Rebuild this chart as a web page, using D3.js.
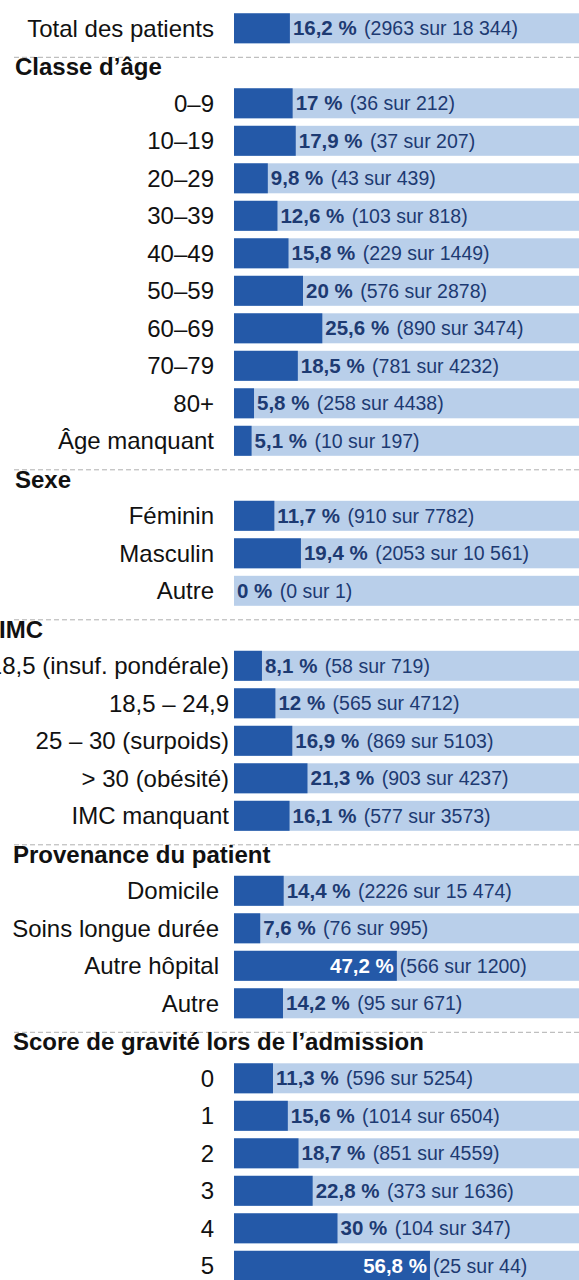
<!DOCTYPE html>
<html>
<head>
<meta charset="utf-8">
<script src="https://cdn.jsdelivr.net/npm/d3@7"></script>
<style>
  html, body { margin: 0; padding: 0; background: #fff; }
  svg { display: block; font-family: 'Liberation Sans', Arial, sans-serif; }
</style>
</head>
<body>
<svg id="chart"></svg>
<script>
// sections (the first one, "Total", has no header)
const sectionTitles = ['', 'Classe d’âge', 'Sexe', 'IMC', 'Provenance du patient', 'Score de gravité lors de l’admission'];
const sectionSizes = [1, 10, 3, 5, 4, 6];

const rowLabels = [
  'Total des patients',
  '0–9', '10–19', '20–29', '30–39', '40–49', '50–59', '60–69', '70–79', '80+', 'Âge manquant',
  'Féminin', 'Masculin', 'Autre',
  '< 18,5 (insuf. pondérale)', '18,5 – 24,9', '25 – 30 (surpoids)', '> 30 (obésité)', 'IMC manquant',
  'Domicile', 'Soins longue durée', 'Autre hôpital', 'Autre',
  '0', '1', '2', '3', '4', '5',
];
const rowPct = [
  16.2,
  17, 17.9, 9.8, 12.6, 15.8, 20, 25.6, 18.5, 5.8, 5.1,
  11.7, 19.4, 0,
  8.1, 12, 16.9, 21.3, 16.1,
  14.4, 7.6, 47.2, 14.2,
  11.3, 15.6, 18.7, 22.8, 30, 56.8,
];
const rowCases = [
  2963,
  36, 37, 43, 103, 229, 576, 890, 781, 258, 10,
  910, 2053, 0,
  58, 565, 869, 903, 577,
  2226, 76, 566, 95,
  596, 1014, 851, 373, 104, 25,
];
const rowTotals = [
  18344,
  212, 207, 439, 818, 1449, 2878, 3474, 4232, 4438, 197,
  7782, 10561, 1,
  719, 4712, 5103, 4237, 3573,
  15474, 995, 1200, 671,
  5254, 6504, 4559, 1636, 347, 44,
];

// layout
const W = 579;
const H = 1280;
const barLeft = 234;
const rowStep = 37.5;
const firstBarTop = 13.3;
const headerX = [0, 15, 15, -1, 13, 13];
const labelRight = [214, 214, 214, 229, 219, 214];
const dark = '#2459a8';
const light = '#b9cfea';
const navy = '#1d3a72';

// build slots: one per header, one per row
const slots = [];
let r = 0;
sectionSizes.forEach((size, s) => {
  if (sectionTitles[s]) slots.push({ type: 'header', section: s, title: sectionTitles[s] });
  for (let i = 0; i < size; i += 1, r += 1) {
    slots.push({
      type: 'row', section: s, label: rowLabels[r], pct: rowPct[r], cases: rowCases[r], total: rowTotals[r],
    });
  }
});
slots.forEach((d, i) => { d.key = i; });

const y = d3.scaleBand()
  .domain(slots.map(d => d.key))
  .range([firstBarTop - rowStep * 0.1, firstBarTop - rowStep * 0.1 + rowStep * slots.length])
  .paddingInner(0.2)
  .paddingOuter(0.1);
const x = d3.scaleLinear().domain([0, 100]).range([barLeft, W]);

const fmtCount = n => (n >= 10000 ? d3.format(',')(n).replace(/,/g, '\u00a0') : String(n));
const fmtPct = p => `${String(p).replace('.', ',')}\u00a0%`;

const svg = d3.select('#chart').attr('width', W).attr('height', H);
svg.append('rect').attr('width', W).attr('height', H).attr('fill', '#fff');

const headers = slots.filter(d => d.type === 'header');
const rows = slots.filter(d => d.type === 'row');

// dashed separators + section titles
svg.append('g').selectAll('line')
  .data(headers)
  .enter()
  .append('line')
  .attr('x1', 14)
  .attr('x2', W)
  .attr('y1', d => y(d.key) + 6.5)
  .attr('y2', d => y(d.key) + 6.5)
  .attr('stroke', '#b0b0b0')
  .attr('stroke-width', 1)
  .attr('stroke-dasharray', '5,3');

svg.append('g').selectAll('text')
  .data(headers)
  .enter()
  .append('text')
  .attr('x', d => headerX[d.section])
  .attr('y', d => y(d.key) + 24.5)
  .attr('font-size', 24)
  .attr('font-weight', 'bold')
  .attr('fill', '#111')
  .text(d => d.title);

const g = svg.append('g').selectAll('g')
  .data(rows)
  .enter()
  .append('g')
  .attr('transform', d => `translate(0,${y(d.key)})`);

const bh = y.bandwidth();

g.append('text')
  .attr('x', d => labelRight[d.section])
  .attr('y', bh / 2 + 8.3)
  .attr('text-anchor', 'end')
  .attr('font-size', 24)
  .attr('fill', '#111')
  .text(d => d.label);

g.append('rect')
  .attr('x', x(0))
  .attr('y', 0)
  .attr('width', x(100) - x(0))
  .attr('height', bh)
  .attr('fill', light);

g.append('rect')
  .attr('x', x(0))
  .attr('y', 0)
  .attr('width', d => x(d.pct) - x(0))
  .attr('height', bh)
  .attr('fill', dark);

const inside = d => d.pct >= 40;

// value labels outside the dark bar
const out = g.filter(d => !inside(d)).append('text')
  .attr('x', d => x(d.pct) + 3)
  .attr('y', bh / 2 + 7.2)
  .attr('fill', navy);
out.append('tspan')
  .attr('font-size', 20.5)
  .attr('font-weight', 'bold')
  .text(d => fmtPct(d.pct));
out.append('tspan')
  .attr('font-size', 19.5)
  .attr('dx', 2)
  .text(d => ` (${fmtCount(d.cases)} sur ${fmtCount(d.total)})`);

// value labels for long bars: percent inside in white
const ins = g.filter(inside);
ins.append('text')
  .attr('x', d => x(d.pct) - 3)
  .attr('y', bh / 2 + 7.2)
  .attr('text-anchor', 'end')
  .attr('font-size', 20.5)
  .attr('font-weight', 'bold')
  .attr('fill', '#fff')
  .text(d => fmtPct(d.pct));
ins.append('text')
  .attr('x', d => x(d.pct) + 3)
  .attr('y', bh / 2 + 7.2)
  .attr('font-size', 19.5)
  .attr('fill', navy)
  .text(d => `(${fmtCount(d.cases)} sur ${fmtCount(d.total)})`);
</script>
</body>
</html>
